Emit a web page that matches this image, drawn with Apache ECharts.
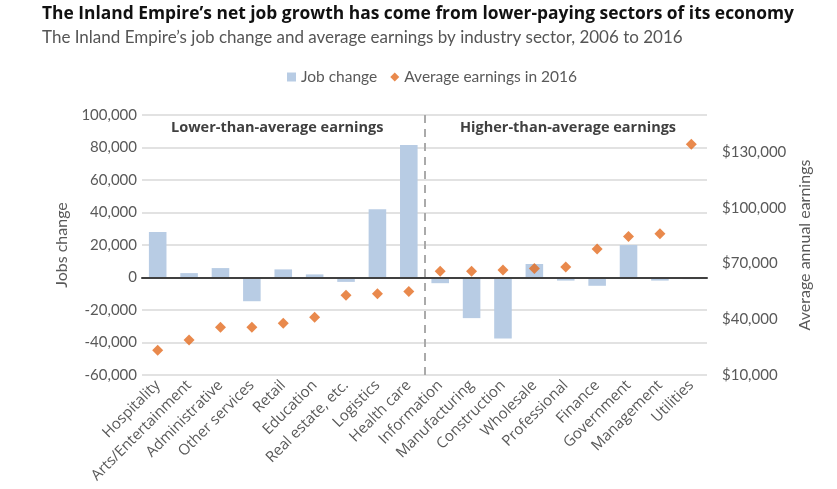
<!DOCTYPE html>
<html>
<head>
<meta charset="utf-8">
<script src="https://cdn.jsdelivr.net/npm/echarts@6/dist/echarts.min.js"></script>
<style>
  html, body { margin: 0; padding: 0; background: #fff; }
  #chart { width: 837px; height: 489px; }
</style>
</head>
<body>
<div id="chart"></div>
<script>
  // industry sectors, low-paying ones first
  var sectors = ['Hospitality', 'Arts/Entertainment', 'Administrative', 'Other services', 'Retail',
    'Education', 'Real estate, etc.', 'Logistics', 'Health care', 'Information', 'Manufacturing',
    'Construction', 'Wholesale', 'Professional', 'Finance', 'Government', 'Management', 'Utilities'];

  // job change 2006-2016
  var jobChange = [28000, 2700, 5800, -14600, 5000, 1900, -2700, 42000, 81500,
    -3500, -25000, -37500, 8300, -1900, -5100, 20000, -1900, -1000];

  // average annual earnings in 2016
  var earnings = [23300, 28900, 35700, 35700, 37900, 41100, 53000, 53700, 55000,
    65900, 65900, 66600, 67400, 68200, 77800, 84600, 86000, 134200];

  var groupLabels = ['Lower-than-average earnings', 'Higher-than-average earnings'];

  var font = 'Lato';
  var boldFont = 'Open Sans';
  var grey = '#595959';

  function commas(v) {
    return Number(v).toLocaleString('en-US');
  }

  var chart = echarts.init(document.getElementById('chart'));

  var option = {
    animation: false,
    textStyle: { fontFamily: font },
    title: [{
      text: 'The Inland Empire\u2019s net job growth has come from lower-paying sectors of its economy',
      left: 37,
      top: 1,
      textStyle: { fontFamily: boldFont, fontSize: 17.4, fontWeight: 'bold', color: '#111' }
    }, {
      text: 'The Inland Empire\u2019s job change and average earnings by industry sector, 2006 to 2016',
      left: 37,
      top: 24,
      textStyle: { fontFamily: font, fontSize: 17, fontWeight: 'normal', color: '#555' }
    }],
    legend: {
      top: 64,
      left: 282,
      itemGap: 13,
      itemWidth: 9,
      itemHeight: 9,
      textStyle: { fontFamily: font, fontSize: 15.5, color: grey },
      data: [
        { name: 'Job change', icon: 'rect' },
        { name: 'Average earnings in 2016', icon: 'diamond', itemStyle: { color: '#E36C1F' } }
      ]
    },
    grid: { left: 142, right: 130, top: 115, bottom: 114 },
    xAxis: [{
      type: 'category',
      data: sectors,
      axisTick: { show: false },
      axisLine: { onZero: true, onZeroAxisIndex: 0, lineStyle: { color: '#404040', width: 2 } },
      axisLabel: {
        interval: 0,
        rotate: 45,
        fontSize: 15,
        color: grey,
        margin: 8,
        fontFamily: 'Open Sans'
      },
      z: 5
    }, {
      // helper axis used only to place the divider between the two groups
      type: 'value',
      min: 0,
      max: sectors.length,
      show: false
    }],
    yAxis: [{
      type: 'value',
      min: -60000,
      max: 100000,
      interval: 20000,
      name: 'Jobs change',
      nameLocation: 'middle',
      nameGap: 72,
      nameTextStyle: { fontFamily: font, fontSize: 16, color: grey },
      axisLine: { show: false },
      axisTick: { show: false },
      axisLabel: { fontSize: 15, color: grey, fontFamily: font, margin: 5, formatter: commas },
      splitLine: { lineStyle: { color: '#d9d9d9', width: 1.5 } }
    }, {
      type: 'value',
      min: 10000,
      max: 150000,
      interval: 30000,
      name: 'Average annual earnings',
      nameLocation: 'middle',
      nameGap: 82,
      nameRotate: 90,
      nameTextStyle: { fontFamily: font, fontSize: 16, color: grey },
      axisLine: { show: false },
      axisTick: { show: false },
      splitLine: { show: false },
      axisLabel: {
        fontSize: 15, color: grey, fontFamily: font, margin: 15,
        showMaxLabel: false,
        formatter: function (v) { return '$' + commas(v); }
      }
    }],
    graphic: [{
      type: 'text',
      left: 171,
      top: 120,
      style: { text: groupLabels[0], font: 'bold 14.5px "' + boldFont + '"', fill: '#404040' }
    }, {
      type: 'text',
      left: 460,
      top: 120,
      style: { text: groupLabels[1], font: 'bold 14.5px "' + boldFont + '"', fill: '#404040' }
    }],
    series: [{
      name: 'Job change',
      type: 'bar',
      data: jobChange,
      barWidth: '56%',
      itemStyle: { color: '#B8CCE4' },
      z: 2
    }, {
      name: 'Average earnings in 2016',
      type: 'scatter',
      yAxisIndex: 1,
      data: earnings,
      symbol: 'diamond',
      symbolSize: 11,
      itemStyle: { color: '#E36C1F' },
      z: 6
    }, {
      name: 'divider',
      type: 'line',
      xAxisIndex: 1,
      data: [],
      markLine: {
        silent: true,
        symbol: 'none',
        label: { show: false },
        lineStyle: { color: '#aaa', type: [8, 6], width: 2 },
        data: [{ xAxis: 9 }]
      }
    }]
  };

  chart.setOption(option);
</script>
</body>
</html>
